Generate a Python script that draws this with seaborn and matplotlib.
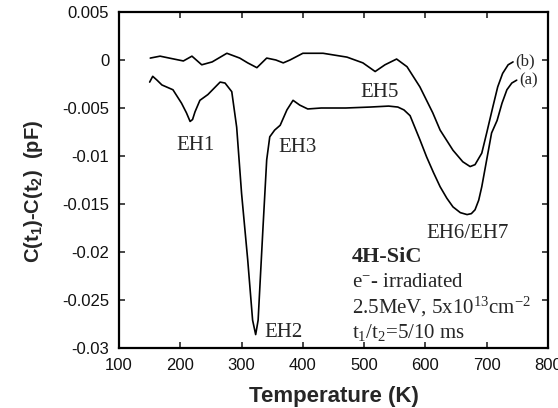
import numpy as np
import pandas as pd
import matplotlib
matplotlib.use("Agg")
import matplotlib.pyplot as plt
import seaborn as sns

# Curve (a)
temp_a = [150, 155, 162, 170, 188, 202, 210, 216, 220, 224, 232, 245, 265, 273, 284, 292, 300, 310,
          318, 323, 327, 335, 341, 346, 354, 363, 374, 384, 395, 408, 430, 470, 510,
          540, 555, 565, 575, 591, 602, 613, 624, 635, 645, 657, 668, 675, 681, 687, 692, 700,
          708, 717, 725, 733, 741, 749]
cap_a = [-0.0023, -0.0017, -0.0021, -0.0026, -0.0031, -0.0045, -0.0055, -0.0064, -0.0062,
         -0.0054, -0.0042, -0.0036, -0.0023, -0.0024, -0.0033, -0.0070, -0.0139, -0.0208,
         -0.0271, -0.0286, -0.0271, -0.0174, -0.0104, -0.0080, -0.0073, -0.0068, -0.0052,
         -0.0042, -0.0047, -0.0051, -0.0050, -0.0050, -0.0049, -0.0048, -0.0049, -0.0052,
         -0.0058, -0.0083, -0.0101, -0.0117, -0.0132, -0.0144, -0.0153, -0.0159, -0.0161,
         -0.0160, -0.0156, -0.0146, -0.0132, -0.0104, -0.0076, -0.0063, -0.0045, -0.0031,
         -0.0024, -0.0021]

# Curve (b)
temp_b = [151, 167, 182, 205, 219, 235, 252, 276, 297, 310, 325, 341, 356, 368, 379,
          400, 433, 472, 498, 518, 534, 553, 570, 591, 612, 624, 645, 661, 673, 681,
          692, 700, 710, 718, 726, 735, 743]
cap_b = [0.0002, 0.0004, 0.0002, -0.0001, 0.0004, -0.0005, -0.0002, 0.0007, 0.0002,
         -0.0003, -0.0008, 0.0002, 0.0000, -0.0003, 0.0000, 0.0007, 0.0007, 0.0003,
         -0.0003, -0.0012, -0.0005, 0.0001, -0.0007, -0.0028, -0.0055, -0.0073, -0.0094,
         -0.0106, -0.0111, -0.0109, -0.0097, -0.0076, -0.0049, -0.0028, -0.0014, -0.0005,
         -0.0002]

x_ticks = [100, 200, 300, 400, 500, 600, 700, 800]
y_ticks = [-0.03, -0.025, -0.02, -0.015, -0.01, -0.005, 0, 0.005]
y_ticklabels = ["-0.03", "-0.025", "-0.02", "-0.015", "-0.01", "-0.005", "0", "0.005"]

peak_labels = ["EH1", "EH2", "EH3", "EH5", "EH6/EH7"]
peak_pos = [(224, -0.0094), (368, -0.0289), (392, -0.0096), (526, -0.0039), (668, -0.0185)]

sns.set_style("ticks")
plt.rcParams['font.family'] = ['Liberation Sans', 'DejaVu Sans']
plt.rcParams['mathtext.fontset'] = 'custom'
plt.rcParams['mathtext.rm'] = 'Liberation Serif'
plt.rcParams['mathtext.it'] = 'Liberation Serif:italic'
plt.rcParams['mathtext.bf'] = 'Liberation Sans:bold'

fig = plt.figure(figsize=(5.58, 4.08), dpi=100)
ax = fig.add_axes([0.2133, 0.147, 0.7687, 0.8236])

df_a = pd.DataFrame({"T": temp_a, "C": cap_a})
df_b = pd.DataFrame({"T": temp_b, "C": cap_b})
sns.lineplot(data=df_a, x="T", y="C", ax=ax, color="black", lw=1.2, sort=False)
sns.lineplot(data=df_b, x="T", y="C", ax=ax, color="black", lw=1.2, sort=False)

ax.set_xlim(100, 800)
ax.set_ylim(-0.03, 0.005)
ax.set_xticks(x_ticks)
ax.set_xticklabels([str(t) for t in x_ticks], fontsize=12)
ax.set_yticks(y_ticks)
ax.set_yticklabels(y_ticklabels, fontsize=12)
ax.tick_params(direction="in", top=True, right=True, length=4, width=1.2, pad=7,
               labelcolor="#111111")
for s in ax.spines.values():
    s.set_linewidth(1.6)
    s.set_color("black")

ax.set_xlabel("Temperature (K)", fontsize=16, fontweight="bold")
ax.set_ylabel(r"C(t$_\mathbf{1}$)-C(t$_\mathbf{2}$)  (pF)", fontsize=14.5, fontweight="bold")
ax.xaxis.set_label_coords(0.5, -0.113)
ax.yaxis.set_label_coords(-0.172, 0.467)

serif = ['Liberation Serif', 'DejaVu Serif']
for lab, (tx, ty) in zip(peak_labels, peak_pos):
    ax.text(tx, ty, lab, family=serif, fontsize=15, ha="center", va="baseline")

ax.text(746, -0.0006, "(b)", family=serif, fontsize=12, ha="left", va="baseline")
ax.text(753, -0.0025, "(a)", family=serif, fontsize=12, ha="left", va="baseline")

ax.text(480, -0.0210, "4H-SiC", family=serif, fontsize=16, fontweight="bold", ha="left", va="baseline")
ax.text(480, -0.02365, r"e$^{-}$- irradiated", family=serif, fontsize=15, ha="left", va="baseline")
ax.text(480, -0.02635, r"2.5MeV, 5x10$^{13}$cm$^{-2}$", family=serif, fontsize=15, ha="left", va="baseline")
ax.text(480, -0.02896, r"t$_1$/t$_2$=5/10 ms", family=serif, fontsize=15, ha="left", va="baseline")

fig.savefig("out.png", dpi=100)
